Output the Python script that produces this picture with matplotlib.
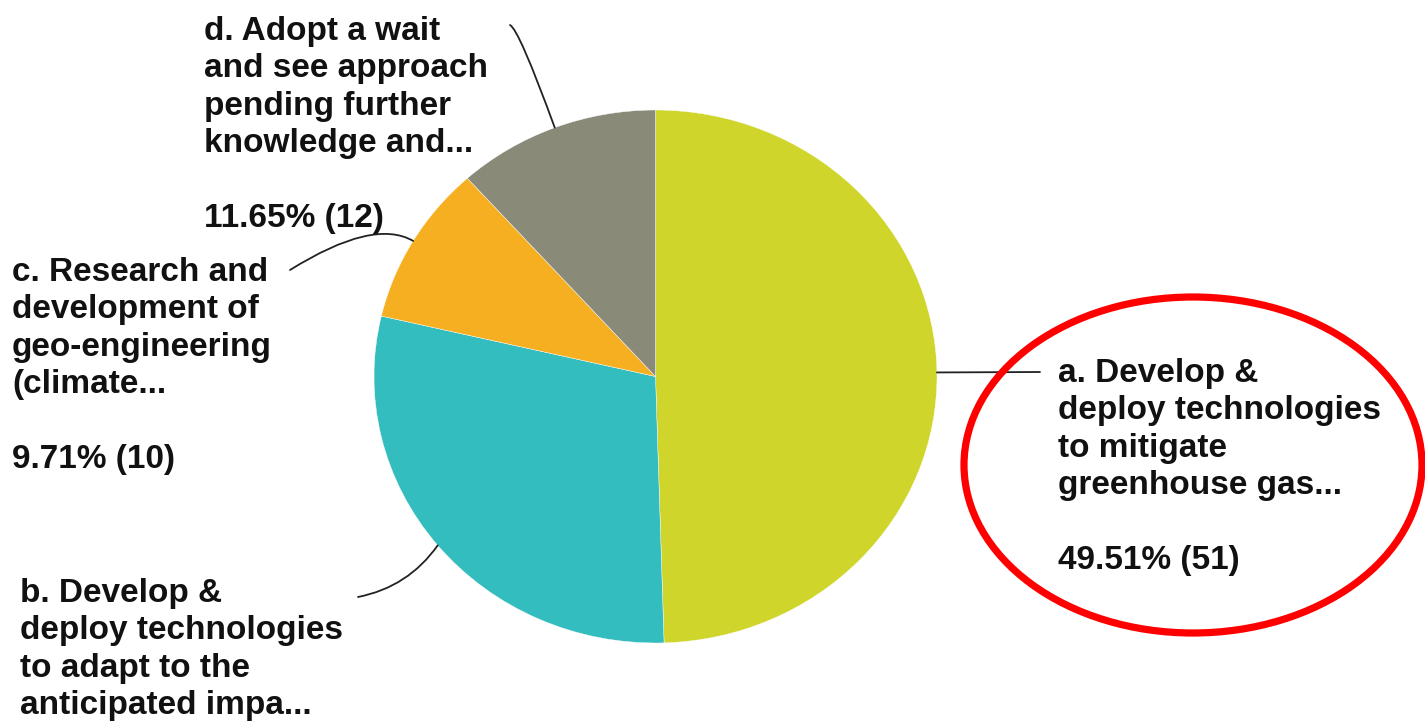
import numpy as np
import matplotlib
matplotlib.use("Agg")
import matplotlib.pyplot as plt
from matplotlib.patches import Ellipse

# ---- data ----
labels = [
    "a. Develop &\ndeploy technologies\nto mitigate\ngreenhouse gas...",
    "b. Develop &\ndeploy technologies\nto adapt to the\nanticipated impa...",
    "c. Research and\ndevelopment of\ngeo-engineering\n(climate...",
    "d. Adopt a wait\nand see approach\npending further\nknowledge and...",
]
counts = [51, 30, 10, 12]
colors = ["#CFD52A", "#33BDBE", "#F5AF20", "#8A8A79"]

W, H = 1425, 724
fig = plt.figure(figsize=(W / 100, H / 100), dpi=100)
fig.patch.set_facecolor("white")

# pie axes box (pixels, from top-left)
px0, px1, py0, py1 = 374, 937, 110, 643
ax = fig.add_axes([px0 / W, (H - py1) / H, (px1 - px0) / W, (py1 - py0) / H])
wedges, _ = ax.pie(counts, colors=colors, startangle=90, counterclock=False,
                   radius=1.0, wedgeprops=dict(linewidth=0.3, edgecolor="white"))
ax.set_aspect("auto")
ax.set_xlim(-1, 1)
ax.set_ylim(-1, 1)
ax.axis("off")

total = sum(counts)
pct_text = [f"{100 * c / total:.2f}% ({c})" for c in counts]

# text positions (figure pixels, from top-left) and leader line ends
text_pos = [(1058, 358), (20, 578), (12, 257), (204, 16)]
line_end = [(1040, 372), (358, 597), (290, 270), (510, 25)]
conn = ["arc3,rad=0", "arc3,rad=0.2", "angle3,angleA=32,angleB=-30", "angle3,angleA=-25,angleB=-70"]
show_pct = [True, False, True, True]

font = dict(family=["Liberation Sans", "DejaVu Sans"], fontweight="bold",
            fontsize=24, color="#111111")

for i, w in enumerate(wedges):
    mid = np.deg2rad((w.theta1 + w.theta2) / 2)
    xy = (np.cos(mid), np.sin(mid))
    tx, ty = text_pos[i]
    txt = labels[i] + ("\n\n" + pct_text[i] if show_pct[i] else "")
    fig.text(tx / W, 1 - ty / H, txt, ha="left", va="top", linespacing=1.265, **font)
    ex, ey = line_end[i]
    ax.annotate("", xy=xy, xycoords="data", xytext=(ex, H - ey),
                textcoords="figure pixels",
                arrowprops=dict(arrowstyle="-", color="#222222", lw=1.3,
                                connectionstyle=conn[i], shrinkA=0, shrinkB=0))

# red highlight ellipse around label a
ell = Ellipse((1193, H - 465), 458, 336, transform=None, fill=False,
              edgecolor="#FF0000", linewidth=5.2)
fig.add_artist(ell)

fig.savefig("out.png", dpi=100, facecolor="white")
